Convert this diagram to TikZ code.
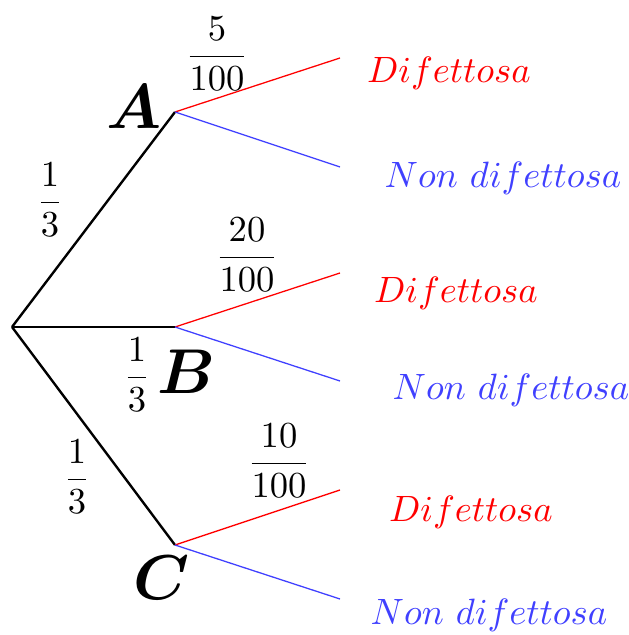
\documentclass[tikz,border=0pt]{standalone}
\usepackage{amsmath}
\usepackage{bm}
\usepackage{tikz}
\tikzset{
  branchline/.style={draw=black, line width=0.65pt},
  defline/.style={draw=red, line width=0.35pt},
  okline/.style={draw=blue!75, line width=0.35pt},
  eventlabel/.style={inner sep=0pt, font=\fontsize{16}{19}\selectfont},
  problabel/.style={inner sep=0pt},
  deftext/.style={inner sep=0pt, text=red},
  oktext/.style={inner sep=0pt, text=blue!75},
}

\begin{document}
\begin{tikzpicture}[x=0.273pt, y=-0.273pt]
  \useasboundingbox (0,0) rectangle (628,635);

  % Vertices of the tree
  \coordinate (root) at (12,327);
  \coordinate (A) at (175,112);
  \coordinate (B) at (175,327);
  \coordinate (C) at (175,545);

  % Ends of the second level
  \coordinate (Adif) at (340,58);
  \coordinate (Aok) at (340,167);
  \coordinate (Bdif) at (340,273);
  \coordinate (Bok) at (340,381);
  \coordinate (Cdif) at (340,490);
  \coordinate (Cok) at (340,599);

  % First level
  \draw[branchline] (root) -- (A);
  \draw[branchline] (root) -- (B);
  \draw[branchline] (root) -- (C);

  % Second level
  \draw[defline] (A) -- (Adif);
  \draw[okline] (A) -- (Aok);
  \draw[defline] (B) -- (Bdif);
  \draw[okline] (B) -- (Bok);
  \draw[defline] (C) -- (Cdif);
  \draw[okline] (C) -- (Cok);

  % Events
  \node[eventlabel] (labA) at (134,107) {$\bm{A}$};
  \node[eventlabel] (labB) at (186,372) {$\bm{B}$};
  \node[eventlabel] (labC) at (162,578) {$\bm{C}$};

  % Probabilities
  \node[problabel] (pA) at (50,200) {$\dfrac{1}{3}$};
  \node[problabel] (pB) at (137,375) {$\dfrac{1}{3}$};
  \node[problabel] (pC) at (77,477) {$\dfrac{1}{3}$};
  \node[problabel] (pAdif) at (217,54) {$\dfrac{5}{100}$};
  \node[problabel] (pBdif) at (247,255) {$\dfrac{20}{100}$};
  \node[problabel] (pCdif) at (279,461) {$\dfrac{10}{100}$};

  % Outcomes
  \node[deftext] (tAdif) at (449,73) {$Difettosa$};
  \node[oktext] (tAok) at (503,178) {$Non\ difettosa$};
  \node[deftext] (tBdif) at (456,293) {$Difettosa$};
  \node[oktext] (tBok) at (511,390) {$Non\ difettosa$};
  \node[deftext] (tCdif) at (471,512) {$Difettosa$};
  \node[oktext] (tCok) at (489,615) {$Non\ difettosa$};
\end{tikzpicture}
\end{document}
